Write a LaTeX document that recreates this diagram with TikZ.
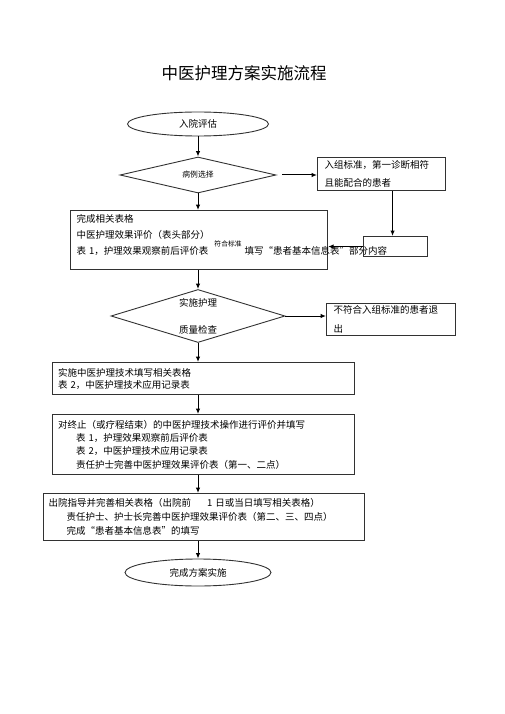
\documentclass[tikz,border=0pt]{standalone}
\usepackage{fontspec}
\setmainfont{Noto Sans CJK SC}
\usepackage{xcolor}
\usepackage{tikz}
\usetikzlibrary{arrows.meta, shapes.geometric}
\definecolor{flowgray}{RGB}{50,50,50}

\begin{document}
\begin{tikzpicture}[x=1pt, y=-1pt,
  term/.style={ellipse, draw=flowgray, line width=0.9pt, inner sep=0pt, font=\fontsize{9.5}{11}\selectfont},
  decide/.style={diamond, draw=flowgray, line width=0.9pt, inner sep=0pt, aspect=3.3, align=center},
  box/.style={rectangle, draw=flowgray, line width=1.1pt, inner xsep=6pt, inner ysep=0pt, align=left, anchor=north west, font=\fontsize{9.5}{14}\selectfont},
  flow/.style={-{Latex[length=5.5pt,width=4.5pt]}, line width=1pt},
  small/.style={font=\fontsize{6.8}{7}\selectfont}
]
\useasboundingbox (0,0) rectangle (505,714);

\node[font=\fontsize{16.5}{18}\selectfont] (title) at (244,73) {中医护理方案实施流程};

\node[term, minimum width=141pt, minimum height=24pt] (start) at (198,124) {入院评估};
\node[decide, minimum width=156pt, minimum height=36pt, font=\fontsize{7.8}{9}\selectfont] (sel) at (198,175) {病例选择};
\node[box, minimum width=128pt, minimum height=33pt, text width=114pt, inner xsep=7pt, font=\fontsize{9.5}{18}\selectfont] (crit) at (317,157) {入组标准，第一诊断相符\\且能配合的患者};

\node[box, minimum width=257pt, minimum height=59pt, text width=245pt, text depth=44pt, font=\fontsize{9.5}{16}\selectfont] (form) at (70,210)
  {完成相关表格\\中医护理效果评价（表头部分）\\\rlap{表 1，护理效果观察前后评价表\hspace{6pt}\raisebox{8pt}{\fontsize{6.8}{7}\selectfont 符合标准}\hspace{3pt}填写“患者基本信息表”部分内容}};
\node[box, minimum width=64pt, minimum height=20pt, text width=52pt] (fill) at (363,236) {};

\node[decide, minimum width=174pt, minimum height=53pt, font=\fontsize{9.5}{27}\selectfont] (qc) at (198,316) {实施护理\\质量检查};
\node[box, minimum width=129pt, minimum height=32pt, text width=115pt, inner xsep=7pt, font=\fontsize{9.5}{19}\selectfont] (exit) at (326,303) {不符合入组标准的患者退\\出};

\node[box, minimum width=302pt, minimum height=32pt, text width=291pt, inner xsep=5.5pt, font=\fontsize{9.5}{12}\selectfont] (tech) at (52,362)
  {实施中医护理技术填写相关表格\\表 2，中医护理技术应用记录表};
\node[box, minimum width=302pt, minimum height=60pt, text width=291pt, inner xsep=5.5pt, font=\fontsize{9.5}{13.3}\selectfont] (eval) at (52,414)
  {对终止（或疗程结束）的中医护理技术操作进行评价并填写\\
   \hspace*{18pt}表 1，护理效果观察前后评价表\\
   \hspace*{18pt}表 2，中医护理技术应用记录表\\
   \hspace*{18pt}责任护士完善中医护理效果评价表（第一、二点）};
\node[box, minimum width=321pt, minimum height=47pt, text width=311pt, inner xsep=5pt, font=\fontsize{9.5}{14}\selectfont] (dis) at (43,493)
  {出院指导并完善相关表格（出院前\hspace{16pt}1 日或当日填写相关表格）\\
   \hspace*{18pt}责任护士、护士长完善中医护理效果评价表（第二、三、四点）\\
   \hspace*{18pt}完成“患者基本信息表”的填写};

\node[term, minimum width=146pt, minimum height=27pt] (done) at (198,572.5) {完成方案实施};

\draw[flow] (start.south) -- (start.south |- sel.north);
\draw[flow] (sel.south) -- (sel.south |- form.north);
\draw[flow] ([xshift=6pt]sel.east) -- (sel.east -| crit.west);
\draw[flow] ([xshift=-3pt]fill.north |- crit.south) -- ([xshift=-3pt]fill.north);
\draw[flow] (fill.west) -- (fill.west -| form.east);
\draw[flow] (sel.south |- form.south) -- (qc.north);
\draw[flow] (qc.east) -- (qc.east -| exit.west);
\draw[flow] (qc.south) -- (qc.south |- tech.north);
\draw[flow] (qc.south |- tech.south) -- (qc.south |- eval.north);
\draw[flow] (qc.south |- eval.south) -- (qc.south |- dis.north);
\draw[flow] (qc.south |- dis.south) -- (done.north);
\end{tikzpicture}
\end{document}
